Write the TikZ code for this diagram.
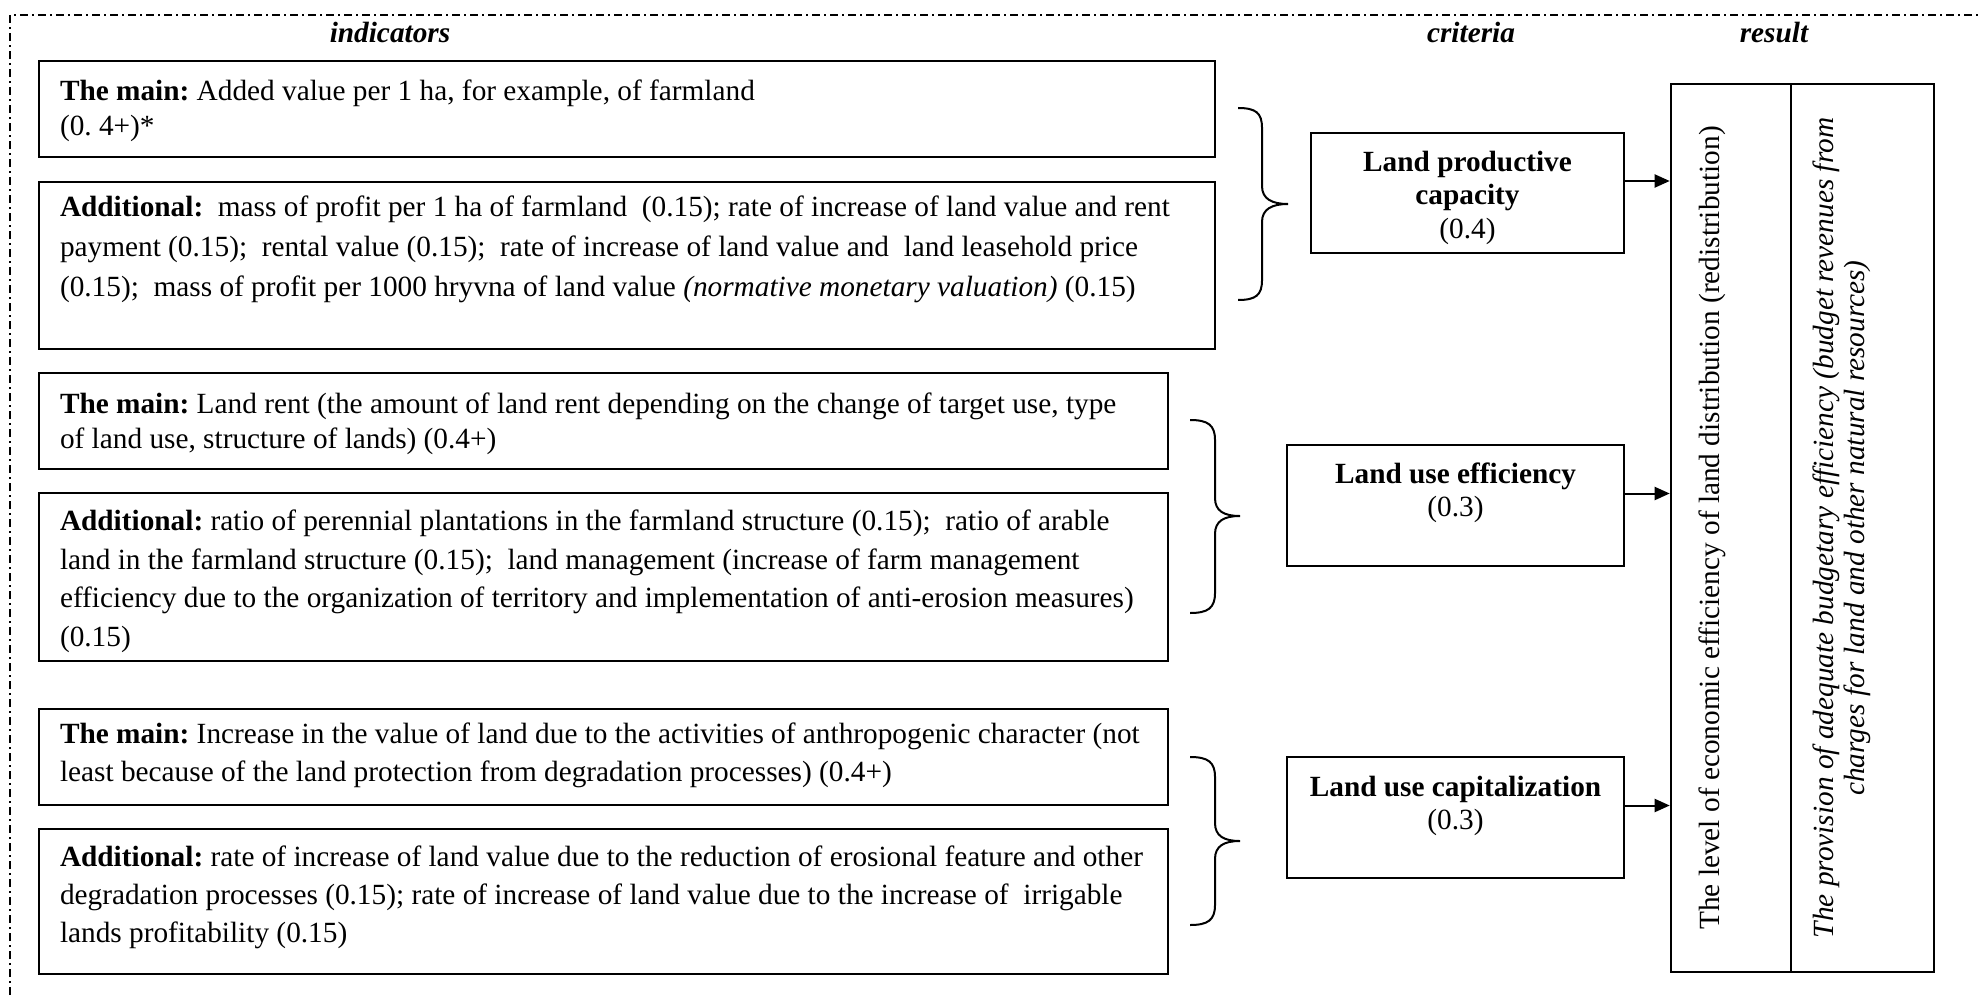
\documentclass[tikz,border=0pt]{standalone}
\usepackage{fontspec}
\setmainfont{Liberation Serif}
\usetikzlibrary{arrows.meta}
\frenchspacing
\newcommand{\tbox}[5]{\parbox[c][#2][t]{#1}{\fontsize{14.65}{#4}\selectfont\raggedright\vspace*{#3}\strut#5}}
\newcommand{\cbox}[4]{\parbox[c][#2][t]{#1}{\centering\vspace*{#3}\strut#4}}
\begin{document}
\begin{tikzpicture}[x=0.5pt,y=-0.5pt,
  txt/.style={font=\fontsize{14.65}{17.5}\selectfont},
  ibox/.style={draw, line width=1pt, inner xsep=10.5pt, inner ysep=0pt, anchor=north west, txt},
  kbox/.style={draw, line width=1pt, inner sep=0pt, anchor=north west, font=\fontsize{14.65}{16.75}\selectfont},
  rbox/.style={draw, line width=1pt, inner sep=0pt, rotate=90, txt},
  hdr/.style={anchor=base, font=\fontsize{14.65}{17.5}\selectfont\bfseries\itshape},
  arr/.style={line width=1pt, -{Triangle[length=7.5pt,width=6.5pt]}},
  bracestyle/.style={line width=1pt},
  framestyle/.style={line width=0.75pt, dash pattern=on 4pt off 2pt on 1pt off 2pt}]
\useasboundingbox (0,0) rectangle (1979,995);
\draw[framestyle] (10,995) -- (10,15) -- (1979,15);

\node[hdr] (h1) at (390,43) {indicators};
\node[hdr] (h2) at (1471,43) {criteria};
\node[hdr] (h3) at (1774,43) {result};

\node[ibox] (a1) at (38,60) {\tbox{567pt}{48pt}{8.1pt}{17pt}{\mbox{\textbf{The main:} Added value per 1 ha, for example, of farmland}\\\mbox{(0. 4+)*}}};
\node[ibox] (a2) at (38,181) {\tbox{567pt}{83.5pt}{3pt}{20pt}{\mbox{\textbf{Additional:}\ \ mass of profit per 1 ha of farmland\ \ (0.15); rate of increase of land value and rent}\\\mbox{payment (0.15);\ \ rental value (0.15);\ \ rate of increase of land value and\ \ land leasehold price}\\\mbox{(0.15);\ \ mass of profit per 1000 hryvna of land value \textit{(normative monetary valuation)} (0.15)}}};
\node[ibox] (b1) at (38,372) {\tbox{543.5pt}{48pt}{7.75pt}{17.5pt}{\mbox{\textbf{The main:} Land rent (the amount of land rent depending on the change of target use, type}\\\mbox{of land use, structure of lands) (0.4+)}}};
\node[ibox] (b2) at (38,492) {\tbox{543.5pt}{84pt}{5.2pt}{19.35pt}{\mbox{\textbf{Additional:} ratio of perennial plantations in the farmland structure (0.15);\ \ ratio of arable}\\\mbox{land in the farmland structure (0.15);\ \ land management (increase of farm management}\\\mbox{efficiency due to the organization of territory and implementation of anti-erosion measures)}\\\mbox{(0.15)}}};
\node[ibox] (c1) at (38,708) {\tbox{543.5pt}{48pt}{3.7pt}{19pt}{\mbox{\textbf{The main:} Increase in the value of land due to the activities of anthropogenic character (not}\\\mbox{least because of the land protection from degradation processes) (0.4+)}}};
\node[ibox] (c2) at (38,828) {\tbox{543.5pt}{72.5pt}{5.45pt}{19pt}{\mbox{\textbf{Additional:} rate of increase of land value due to the reduction of erosional feature and other}\\\mbox{degradation processes (0.15); rate of increase of land value due to the increase of\ \ irrigable}\\\mbox{lands profitability (0.15)}}};

\draw[bracestyle] (1238,108) .. controls (1256,108) and (1262,113) .. (1262,128) -- (1262,186) .. controls (1262,199) and (1272,204) .. (1288,204) .. controls (1272,204) and (1262,209) .. (1262,222) -- (1262,280) .. controls (1262,295) and (1256,300) .. (1238,300);
\draw[bracestyle] (1190,420) .. controls (1208,420) and (1215,425) .. (1215,440) -- (1215,498) .. controls (1215,511) and (1224,516) .. (1240,516) .. controls (1224,516) and (1215,521) .. (1215,534) -- (1215,593) .. controls (1215,608) and (1208,613) .. (1190,613);
\draw[bracestyle] (1190,757) .. controls (1208,757) and (1215,762) .. (1215,777) -- (1215,823) .. controls (1215,836) and (1224,841) .. (1240,841) .. controls (1224,841) and (1215,846) .. (1215,859) -- (1215,905) .. controls (1215,920) and (1208,925) .. (1190,925);

\node[kbox] (k1) at (1310,132) {\cbox{156.5pt}{60pt}{7.3pt}{\textbf{Land productive}\\\textbf{capacity}\\(0.4)}};
\node[kbox] (k2) at (1286,444) {\cbox{168.5pt}{60.5pt}{7.3pt}{\textbf{Land use efficiency}\\(0.3)}};
\node[kbox] (k3) at (1286,756) {\cbox{168.5pt}{60.5pt}{7.8pt}{\textbf{Land use capitalization}\\(0.3)}};

\node[rbox, line width=1.3pt] (r1) at (1731,528) {\cbox{444pt}{60pt}{11.75pt}{The level of economic efficiency of land distribution (redistribution)}};
\node[rbox] (r2) at (1862.5,528) {\parbox[c][71.5pt][t]{444pt}{\centering\itshape\fontsize{14.65}{15.5}\selectfont\vspace*{10.6pt}\strut The provision of adequate budgetary efficiency (budget revenues from\\charges for land and other natural resources)}};

\draw[arr] ([yshift=6pt]k1.east) coordinate (s1) -- (s1 -| r1.north);
\draw[arr] ([yshift=6pt]k2.east) coordinate (s2) -- (s2 -| r1.north);
\draw[arr] ([yshift=6pt]k3.east) coordinate (s3) -- (s3 -| r1.north);
\end{tikzpicture}
\end{document}
